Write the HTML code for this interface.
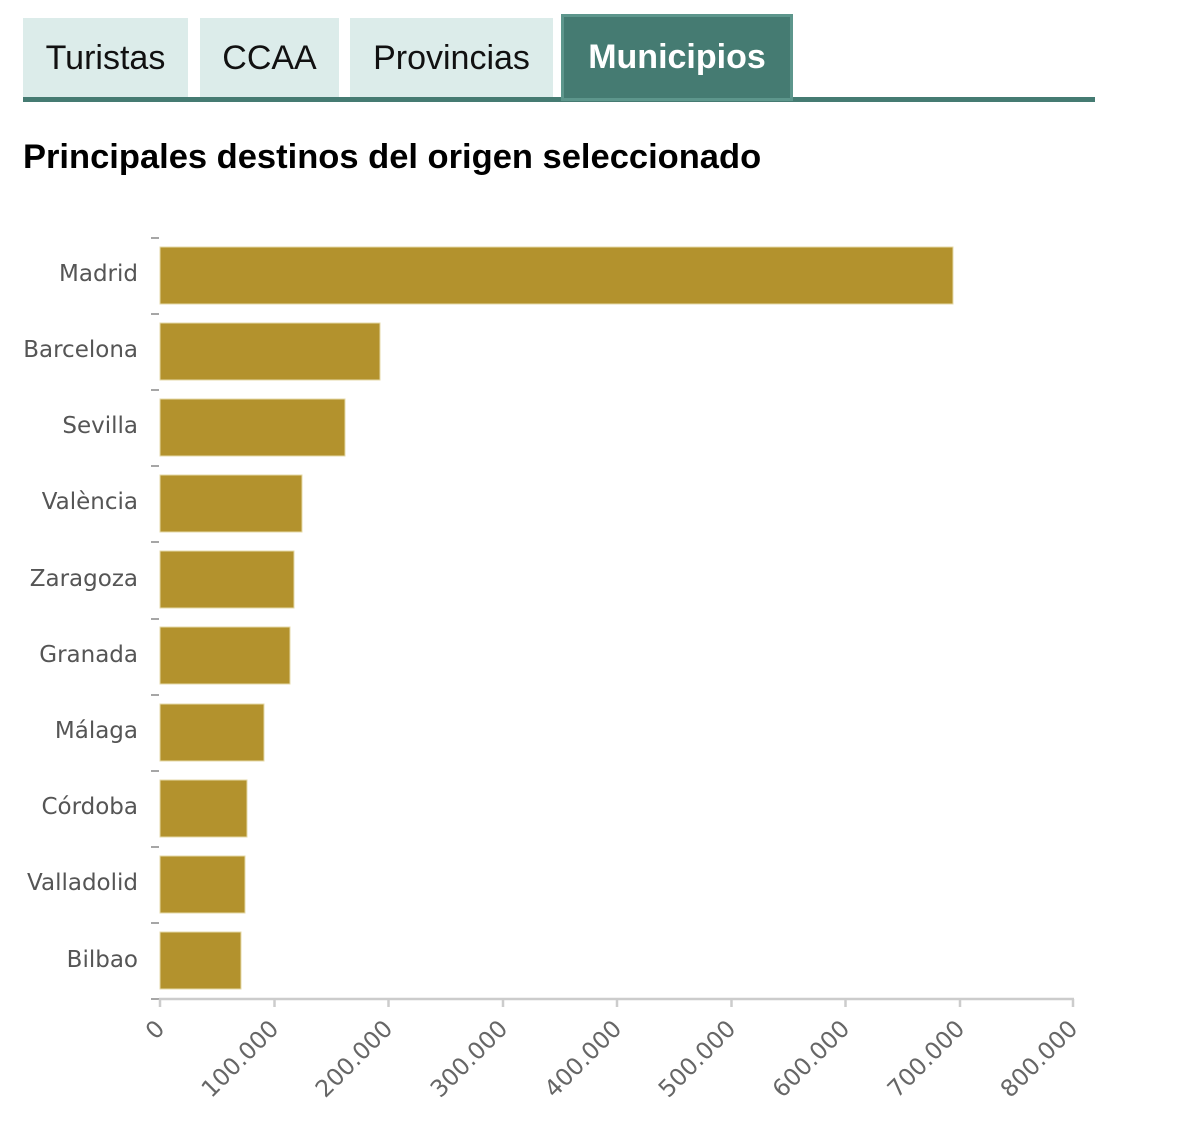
<!DOCTYPE html>
<html><head><meta charset="utf-8"><style>
body{margin:0;background:#fff;width:1200px;height:1126px;overflow:hidden;position:relative;font-family:"Liberation Sans",Arial,sans-serif}
.tab{position:absolute;background:#dcecea;color:#111;font-size:34px;display:flex;align-items:center;justify-content:center;box-sizing:border-box}
</style></head><body>
<div class="tab" style="left:23px;top:18px;width:165px;height:80px">Turistas</div>
<div class="tab" style="left:200px;top:18px;width:139px;height:80px">CCAA</div>
<div class="tab" style="left:350px;top:18px;width:203px;height:80px">Provincias</div>
<div style="position:absolute;left:23px;top:97px;width:1072px;height:5px;background:#457b72"></div>
<div class="tab" style="left:561px;top:14px;width:232px;height:87px;background:#457b72;border:3px solid #5d968c;color:#fff;font-weight:bold">Municipios</div>
<div style="position:absolute;left:23px;top:138px;font-size:34.5px;font-weight:bold;color:#000">Principales destinos del origen seleccionado</div>
<svg width="1200" height="1126" style="position:absolute;left:0;top:0" font-family="DejaVu Sans, sans-serif">
<g fill="#b3922d" stroke="#e6d9a8" stroke-width="1">
<rect x="160" y="247" width="793" height="57"/>
<rect x="160" y="323" width="220" height="57"/>
<rect x="160" y="399" width="185" height="57"/>
<rect x="160" y="475" width="142" height="57"/>
<rect x="160" y="551" width="134" height="57"/>
<rect x="160" y="627" width="130" height="57"/>
<rect x="160" y="704" width="104" height="57"/>
<rect x="160" y="780" width="87" height="57"/>
<rect x="160" y="856" width="85" height="57"/>
<rect x="160" y="932" width="81" height="57"/>
</g>
<g stroke="#888" stroke-width="1.5">
<line x1="151" x2="159" y1="238" y2="238"/><line x1="151" x2="159" y1="314" y2="314"/>
<line x1="151" x2="159" y1="390" y2="390"/><line x1="151" x2="159" y1="466" y2="466"/>
<line x1="151" x2="159" y1="542" y2="542"/><line x1="151" x2="159" y1="619" y2="619"/>
<line x1="151" x2="159" y1="695" y2="695"/><line x1="151" x2="159" y1="771" y2="771"/>
<line x1="151" x2="159" y1="847" y2="847"/><line x1="151" x2="159" y1="923" y2="923"/>
<line x1="151" x2="159" y1="999" y2="999"/>
</g>
<g stroke="#ccc" stroke-width="2.5">
<line x1="159" x2="1074" y1="999" y2="999"/>
<line x1="160" x2="160" y1="999" y2="1007"/><line x1="274.5" x2="274.5" y1="999" y2="1007"/>
<line x1="388.5" x2="388.5" y1="999" y2="1007"/><line x1="503" x2="503" y1="999" y2="1007"/>
<line x1="617" x2="617" y1="999" y2="1007"/><line x1="731.5" x2="731.5" y1="999" y2="1007"/>
<line x1="845.5" x2="845.5" y1="999" y2="1007"/><line x1="960" x2="960" y1="999" y2="1007"/>
<line x1="1073" x2="1073" y1="999" y2="1007"/>
</g>
<g fill="#555" font-size="23" text-anchor="end">
<text x="138" y="281">Madrid</text><text x="138" y="357">Barcelona</text>
<text x="138" y="433">Sevilla</text><text x="138" y="509">València</text>
<text x="138" y="586">Zaragoza</text><text x="138" y="662">Granada</text>
<text x="138" y="738">Málaga</text><text x="138" y="814">Córdoba</text>
<text x="138" y="890">Valladolid</text><text x="138" y="967">Bilbao</text>
</g>
<g fill="#666" font-size="23.5" text-anchor="end">
<text transform="translate(166,1030) rotate(-45)">0</text>
<text transform="translate(280,1030) rotate(-45)">100.000</text>
<text transform="translate(394,1030) rotate(-45)">200.000</text>
<text transform="translate(509,1030) rotate(-45)">300.000</text>
<text transform="translate(623,1030) rotate(-45)">400.000</text>
<text transform="translate(737,1030) rotate(-45)">500.000</text>
<text transform="translate(851,1030) rotate(-45)">600.000</text>
<text transform="translate(966,1030) rotate(-45)">700.000</text>
<text transform="translate(1079,1030) rotate(-45)">800.000</text>
</g>
</svg>
</body></html>
